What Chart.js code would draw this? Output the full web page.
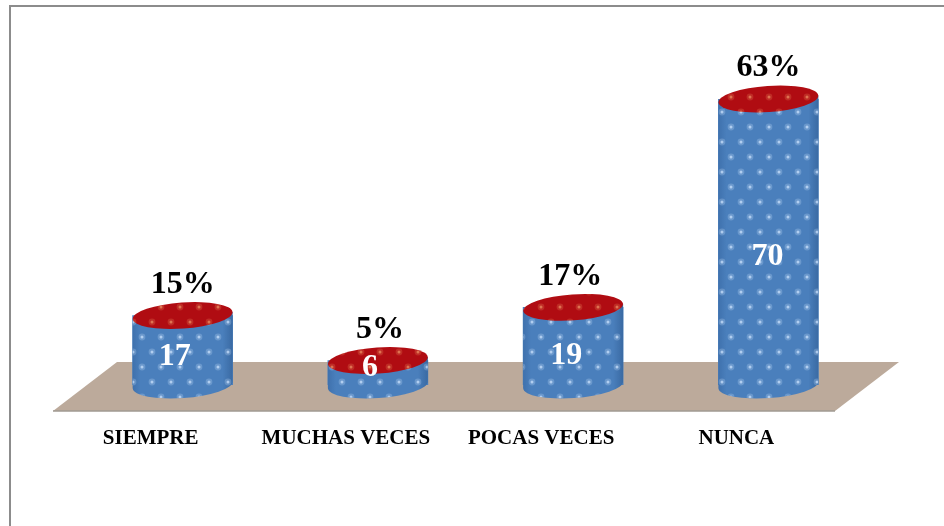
<!DOCTYPE html>
<html>
<head>
<meta charset="utf-8">
<style>
  html, body { margin: 0; padding: 0; background: #fff; }
  #wrap { position: relative; width: 944px; height: 526px; overflow: hidden; }
</style>
<script src="https://cdn.jsdelivr.net/npm/chart.js@4"></script>
</head>
<body>
<div id="wrap"><canvas id="chart" width="944" height="526"></canvas></div>
<script>
const categories = ['SIEMPRE', 'MUCHAS VECES', 'POCAS VECES', 'NUNCA'];
const counts = [17, 6, 19, 70];
const percents = ['15%', '5%', '17%', '63%'];

const SERIF = '"Liberation Serif", "Times New Roman", serif';

// dotted texture that sits on the cylinder sides and the red caps
function dots(color, alpha) {
  const c = document.createElement('canvas');
  c.width = 38; c.height = 30;
  const g = c.getContext('2d');
  g.fillStyle = color;
  [[9, 7], [28, 7], [0, 22], [19, 22], [38, 22]].forEach(p => {
    g.globalAlpha = alpha * 0.35;
    g.beginPath(); g.arc(p[0], p[1], 3.4, 0, Math.PI * 2); g.fill();
    g.globalAlpha = alpha;
    g.beginPath(); g.arc(p[0], p[1], 1.5, 0, Math.PI * 2); g.fill();
  });
  return c;
}

const cylinders = {
  id: 'cylinders',
  beforeDraw(chart) {
    const ctx = chart.ctx;
    ctx.save();
    // frame: only top and left edges fall inside the picture
    ctx.strokeStyle = '#8c8c8c';
    ctx.lineWidth = 2;
    ctx.beginPath();
    ctx.moveTo(10, 526);
    ctx.lineTo(10, 6);
    ctx.lineTo(944, 6);
    ctx.stroke();
    ctx.restore();
  },
  beforeDatasetsDraw(chart) {
    const ctx = chart.ctx;
    const y0 = chart.scales.y.getPixelForValue(0);
    ctx.save();
    // floor
    ctx.beginPath();
    ctx.moveTo(53, y0 + 26);
    ctx.lineTo(117, y0 - 23);
    ctx.lineTo(899, y0 - 23);
    ctx.lineTo(835, y0 + 26);
    ctx.closePath();
    ctx.fillStyle = '#bcaa9b';
    ctx.fill();
    ctx.strokeStyle = '#a09a92';
    ctx.lineWidth = 1.5;
    ctx.beginPath();
    ctx.moveTo(53, y0 + 26);
    ctx.lineTo(835, y0 + 26);
    ctx.stroke();
    ctx.restore();
  },
  afterDatasetsDraw(chart) {
    const ctx = chart.ctx;
    const meta = chart.getDatasetMeta(0);
    const tilt = -0.07;
    const blueDots = ctx.createPattern(dots('#cfe6ff', 0.7), 'repeat');
    const redDots = ctx.createPattern(dots('#f09a6a', 0.65), 'repeat');
    // hand placement of the labels, they are not centred on the bars in the original
    const countNudge = [[-8, 6], [-8, -5], [-7, 10], [-1, 15]];
    const percentNudge = [0, 2, -3, 0];
    meta.data.forEach((bar, i) => {
      const rx = bar.width / 2;
      const ry = 13;
      const top = bar.y, base = bar.base;
      const sl = rx * Math.sin(tilt);
      ctx.save();
      ctx.filter = 'blur(0.5px)';
      // side wall
      const side = new Path2D();
      side.moveTo(bar.x - rx, top - sl);
      side.lineTo(bar.x - rx, base - sl);
      side.ellipse(bar.x, base, rx, ry, tilt, Math.PI, 0, true);
      side.lineTo(bar.x + rx, top + sl);
      side.closePath();
      const grad = ctx.createLinearGradient(bar.x - rx, 0, bar.x + rx, 0);
      grad.addColorStop(0, '#3f71ad');
      grad.addColorStop(0.08, '#4a7fbc');
      grad.addColorStop(0.9, '#4a7fbc');
      grad.addColorStop(1, '#3a6aa3');
      ctx.fillStyle = grad;
      ctx.fill(side);
      ctx.fillStyle = blueDots;
      ctx.fill(side);
      // red cap
      const cap = new Path2D();
      cap.ellipse(bar.x, top, rx, ry, tilt, 0, Math.PI * 2);
      ctx.fillStyle = '#b00c12';
      ctx.fill(cap);
      ctx.fillStyle = redDots;
      ctx.fill(cap);
      ctx.restore();
      // counts on the wall, percents above the cap
      ctx.textAlign = 'center';
      ctx.textBaseline = 'middle';
      ctx.fillStyle = '#fff';
      ctx.font = 'bold 32px ' + SERIF;
      ctx.fillText(counts[i], bar.x + countNudge[i][0], (top + base) / 2 + countNudge[i][1]);
      ctx.fillStyle = '#000';
      ctx.font = 'bold 32px ' + SERIF;
      ctx.fillText(percents[i], bar.x + percentNudge[i], top - 31);
    });
  }
};

new Chart(document.getElementById('chart'), {
  type: 'bar',
  data: {
    labels: categories,
    datasets: [{ data: counts, backgroundColor: '#4a80bd', barThickness: 100 }]
  },
  options: {
    responsive: false,
    animation: false,
    layout: { padding: { left: 85, right: 78, top: 99, bottom: 0 } },
    plugins: { legend: { display: false }, tooltip: { enabled: false } },
    scales: {
      x: {
        grid: { display: false },
        border: { display: false },
        afterFit(axis) { axis.height = 141; },
        ticks: {
          color: '#000',
          padding: 33,
          labelOffset: -32,
          maxRotation: 0,
          autoSkip: false,
          font: { family: SERIF, weight: 'bold', size: 21 }
        }
      },
      y: {
        min: 0, max: 70,
        display: false
      }
    }
  },
  plugins: [cylinders]
});
</script>
</body>
</html>
